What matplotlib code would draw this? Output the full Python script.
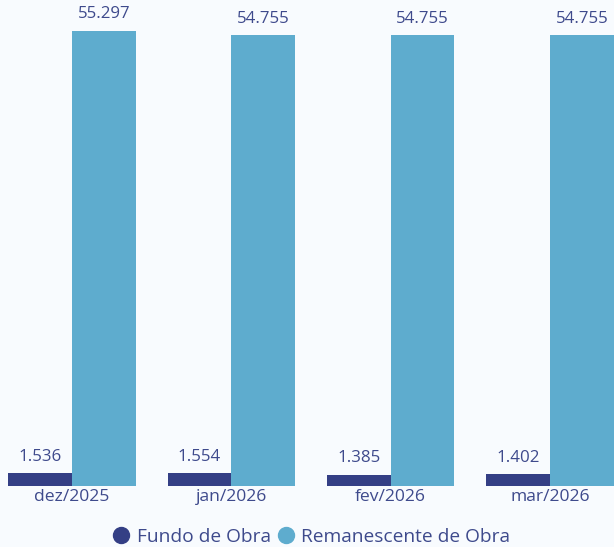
import matplotlib
matplotlib.use("Agg")
import matplotlib.pyplot as plt
import numpy as np
from matplotlib.lines import Line2D

categories = ["dez/2025", "jan/2026", "fev/2026", "mar/2026"]
fundo = [1.536, 1.554, 1.385, 1.402]
remanescente = [55.297, 54.755, 54.755, 54.755]
series_names = ["Fundo de Obra", "Remanescente de Obra"]

c_dark = "#343F85"
c_light = "#5EACCE"
c_text = "#3E4A8C"
bg = "#F8FBFE"

plt.rcParams['font.family'] = ['Open Sans', 'DejaVu Sans']

fig = plt.figure(figsize=(6.14, 5.47), dpi=100, facecolor=bg)
ax = fig.add_axes([0, 61/547, 1, 486/547])
ax.set_facecolor(bg)

x = np.arange(len(categories))
w = 0.4
b1 = ax.bar(x - w/2, fundo, width=w, color=c_dark)
b2 = ax.bar(x + w/2, remanescente, width=w, color=c_light)

def fmt(v):
    return f"{v:.3f}"

for bars, vals in ((b1, fundo), (b2, remanescente)):
    for r, v in zip(bars, vals):
        ax.annotate(fmt(v), (r.get_x() + r.get_width()/2, r.get_height()),
                    xytext=(0, 6), textcoords="offset points", ha="center", va="bottom",
                    fontsize=12.2, color=c_text)

ax.set_xlim(-0.452, 3.402)
ax.set_ylim(0, 59.0)
ax.set_xticks(x)
ax.set_xticklabels(categories, fontsize=12.6, color=c_text)
ax.tick_params(axis='x', length=0, pad=2)
ax.set_yticks([])
for s in ax.spines.values():
    s.set_visible(False)

handles = [Line2D([], [], marker='o', linestyle='', markersize=11.5, color=c) for c in (c_dark, c_light)]
fig.legend(handles, series_names, loc="center", bbox_to_anchor=(0.508, 10/547), ncol=2,
           frameon=False, fontsize=13.8, labelcolor=c_text, handletextpad=0.4,
           columnspacing=0.4, handlelength=0.8, borderpad=0)

fig.savefig("out.png", dpi=100, facecolor=bg)
